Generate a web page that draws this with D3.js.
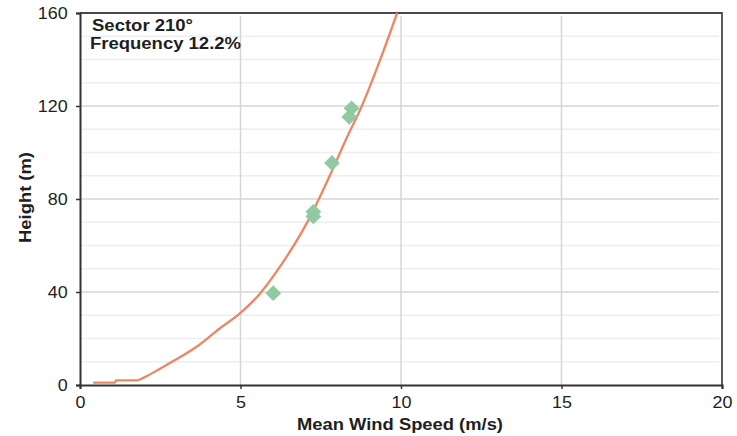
<!DOCTYPE html>
<html>
<head>
<meta charset="utf-8">
<script src="https://cdn.jsdelivr.net/npm/d3@7"></script>
<style>
  body { margin: 0; background: #fff; }
  text { font-family: Arial, "Liberation Sans", sans-serif; fill: #1e1e1e; }
</style>
</head>
<body>
<svg id="chart"></svg>
<script>
// wind profile curve (mean speed vs height)
const profileSpeed = [0.41, 1.09, 1.12, 1.76, 2.1, 2.49, 3.12, 3.69, 4.36, 5.0, 5.61, 6.23, 7.06, 7.78, 8.3, 8.78, 9.35, 9.88];
const profileHeight = [1, 1, 2, 2, 4, 7, 12.0, 17.0, 24.4, 31, 39.4, 50.9, 69.5, 90, 106, 120, 139.8, 160];

// measured points
const measSpeed = [6.02, 7.27, 7.27, 7.85, 8.39, 8.46];
const measHeight = [39.5, 72.5, 74.5, 95.5, 115.3, 119];

const xTicks = [0, 5, 10, 15, 20];
const yTicks = [0, 40, 80, 120, 160];
const yMinor = [10, 20, 30, 50, 60, 70, 90, 100, 110, 130, 140, 150];

const sectorLabel = "Sector 210°";
const freqLabel = "Frequency 12.2%";
const xLabel = "Mean Wind Speed (m/s)";
const yLabel = "Height (m)";

const width = 737;
const height = 436;
const margin = { top: 13, right: 15, bottom: 51, left: 80 };

const svg = d3.select("#chart").attr("width", width).attr("height", height);

const x = d3.scaleLinear().domain([0, 20]).range([margin.left, width - margin.right]);
const y = d3.scaleLinear().domain([0, 160]).range([height - margin.bottom, margin.top]);

// minor grid
svg.selectAll(".minorGrid")
  .data(yMinor)
  .join("line")
  .attr("class", "minorGrid")
  .attr("x1", x(0))
  .attr("x2", x(20) - 3)
  .attr("y1", (d) => y(d))
  .attr("y2", (d) => y(d))
  .attr("stroke", "#eeeeee")
  .attr("stroke-width", 1.5);

// major grid
svg.selectAll(".hGrid")
  .data(yTicks.slice(1, -1))
  .join("line")
  .attr("class", "hGrid")
  .attr("x1", x(0))
  .attr("x2", x(20) - 3)
  .attr("y1", (d) => y(d))
  .attr("y2", (d) => y(d))
  .attr("stroke", "#d6d6d6")
  .attr("stroke-width", 1.5);

svg.selectAll(".vGrid")
  .data(xTicks.slice(1, -1))
  .join("line")
  .attr("class", "vGrid")
  .attr("x1", (d) => x(d))
  .attr("x2", (d) => x(d))
  .attr("y1", y(160) + 3)
  .attr("y2", y(0))
  .attr("stroke", "#d6d6d6")
  .attr("stroke-width", 1.5);

// frame top + right
svg.append("path")
  .attr("d", `M${x(0)},${y(160)}H${x(20)}V${y(0)}`)
  .attr("fill", "none")
  .attr("stroke", "#4a4a4a")
  .attr("stroke-width", 1.8);

// axes
const xAxis = svg.append("g")
  .attr("transform", `translate(0,${y(0)})`)
  .call(d3.axisBottom(x).tickValues(xTicks).tickSizeOuter(0).tickSize(4).tickPadding(8));

const yAxis = svg.append("g")
  .attr("transform", `translate(${x(0)},0)`)
  .call(d3.axisLeft(y).tickValues(yTicks).tickSizeOuter(0).tickSize(4).tickPadding(7));

[xAxis, yAxis].forEach((g) => {
  g.select(".domain").attr("stroke", "#333").attr("stroke-width", 2);
  g.selectAll(".tick line").attr("stroke", "#333").attr("stroke-width", 1.5);
  g.selectAll(".tick text")
    .attr("font-size", 16)
    .attr("font-family", "Arial, 'Liberation Sans', sans-serif")
    .attr("fill", "#1e1e1e")
    .attr("transform", "scale(1.12,1)");
});

// profile line
const lineGenerator = d3.line()
  .x((d) => x(d.s))
  .y((d) => y(d.h))
  .curve(d3.curveMonotoneX);

const profile = profileSpeed.map((s, i) => ({ s, h: profileHeight[i] }));

svg.append("path")
  .datum(profile)
  .attr("fill", "none")
  .attr("stroke", "#ec8663")
  .attr("stroke-width", 2.3)
  .attr("stroke-linejoin", "round")
  .attr("d", lineGenerator);

// measured diamonds
const diamond = d3.symbol().type(d3.symbolSquare).size(125);
svg.selectAll(".points")
  .data(measSpeed.map((s, i) => ({ s, h: measHeight[i] })))
  .join("path")
  .attr("class", "points")
  .attr("d", diamond)
  .attr("transform", (d) => `translate(${x(d.s)},${y(d.h)}) rotate(45)`)
  .attr("fill", "#8fcaa0");

// sector labels
svg.append("text")
  .attr("x", 92)
  .attr("y", 31)
  .attr("font-size", 16)
  .attr("font-weight", "bold")
  .attr("textLength", 101)
  .attr("lengthAdjust", "spacingAndGlyphs")
  .text(sectorLabel);

svg.append("text")
  .attr("x", 90)
  .attr("y", 49)
  .attr("font-size", 16)
  .attr("font-weight", "bold")
  .attr("textLength", 151)
  .attr("lengthAdjust", "spacingAndGlyphs")
  .text(freqLabel);

// axis titles
svg.append("text")
  .attr("x", 297)
  .attr("y", 430)
  .attr("font-size", 17)
  .attr("font-weight", "bold")
  .attr("textLength", 206)
  .attr("lengthAdjust", "spacingAndGlyphs")
  .text(xLabel);

svg.append("text")
  .attr("transform", "translate(31,243) rotate(-90)")
  .attr("font-size", 16)
  .attr("font-weight", "bold")
  .attr("textLength", 91)
  .attr("lengthAdjust", "spacingAndGlyphs")
  .text(yLabel);
</script>
</body>
</html>
